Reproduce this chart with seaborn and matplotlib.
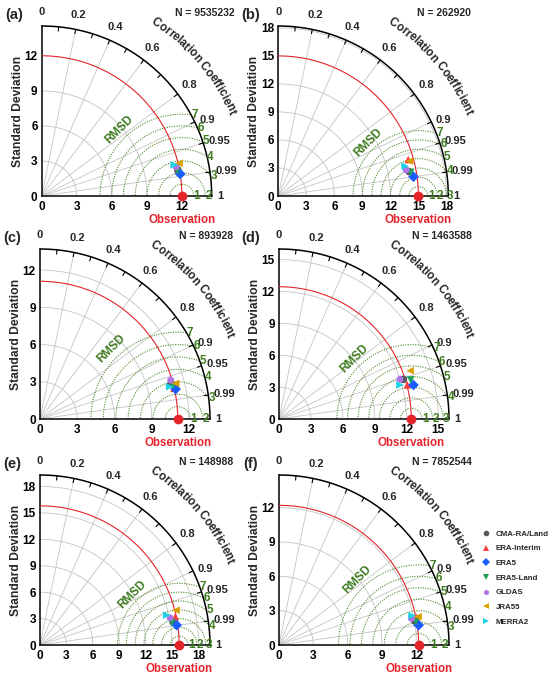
import numpy as np
import pandas as pd
import seaborn as sns
import matplotlib.pyplot as plt
from matplotlib.lines import Line2D

products = ['CMA-RA/Land', 'ERA-Interim', 'ERA5', 'ERA5-Land', 'GLDAS', 'JRA55', 'MERRA2']
colors = ['#555555', '#ff3b3b', '#1a5cff', '#1fa05a', '#b074e6', '#d9a100', '#1ed2e6']
marks = ['o', '^', 'D', 'v', 'h', '<', '>']

panel_tags = ['(a)', '(b)', '(c)', '(d)', '(e)', '(f)']
sample_n = [9535232, 262920, 893928, 1463588, 148988, 7852544]
obs_std = [12.0, 15.0, 11.1, 12.45, 15.8, 12.2]
max_std = [14.55, 18.2, 13.7, 16.0, 19.3, 14.85]
std_ticks = [[0, 3, 6, 9, 12], [0, 3, 6, 9, 12, 15, 18], [0, 3, 6, 9, 12],
             [0, 3, 6, 9, 12, 15], [0, 3, 6, 9, 12, 15, 18], [0, 3, 6, 9, 12]]

# standard deviation / correlation of each product, panel by panel
std_a = [11.86, 11.98, 12.00, 11.82, 11.77, 12.09, 11.65]
corr_a = [0.9827, 0.9806, 0.9876, 0.9830, 0.9770, 0.9727, 0.9735]
std_b = [14.24, 14.44, 14.62, 14.37, 13.97, 14.53, 13.95]
corr_b = [0.9830, 0.9628, 0.9900, 0.9849, 0.9800, 0.9664, 0.9734]
std_c = [10.96, 11.08, 11.19, 11.04, 10.99, 11.30, 10.77]
corr_c = [0.9651, 0.9748, 0.9765, 0.9701, 0.9586, 0.9672, 0.9704]
std_d = [12.29, 12.50, 13.05, 12.93, 11.99, 13.15, 11.83]
corr_d = [0.9528, 0.9665, 0.9694, 0.9589, 0.9500, 0.9383, 0.9627]
std_e = [15.33, 15.70, 15.68, 15.21, 15.09, 15.94, 14.78]
corr_e = [0.9852, 0.9790, 0.9896, 0.9857, 0.9788, 0.9688, 0.9734]
std_f = [12.04, 12.24, 12.32, 12.12, 11.80, 12.40, 11.90]
corr_f = [0.9848, 0.9806, 0.9900, 0.9859, 0.9805, 0.9799, 0.9765]
all_std = [std_a, std_b, std_c, std_d, std_e, std_f]
all_corr = [corr_a, corr_b, corr_c, corr_d, corr_e, corr_f]

corr_labels = [0, 0.2, 0.4, 0.6, 0.8, 0.9, 0.95, 0.99, 1]
corr_grid = [0.2, 0.4, 0.6, 0.8, 0.9, 0.95, 0.99]
corr_ticks = [0.1, 0.2, 0.3, 0.4, 0.5, 0.6, 0.7, 0.8, 0.9, 0.95, 0.99]
rmsd_levels = [1, 2, 3, 4, 5, 6, 7]

sns.set_theme(style='white')
plt.rcParams['font.family'] = ['Liberation Sans', 'DejaVu Sans']
plt.rcParams['font.weight'] = 'bold'

green = '#3e7b1f'
red = '#e3242b'

# advance widths (em) for the curved axis title
adv = {'C': .722, 'o': .611, 'r': .389, 'e': .556, 'l': .278, 'a': .556, 't': .333,
       'i': .278, 'n': .611, ' ': .278, 'f': .333, 'c': .556}

W, H = 550, 677
side = 170
origins = [(41.7, 196), (278.3, 196), (40, 419), (279, 419), (40, 645), (279, 645)]

fig = plt.figure(figsize=(5.5, 6.77), dpi=100)

for k in range(6):
     ox, oy = origins[k]
     ax = fig.add_axes([ox / W, (H - oy) / H, side / W, side / H])
     R = max_std[k]
     obs = obs_std[k]
     unit = side / R                    # px per data unit
     ax.set_xlim(0, R)
     ax.set_ylim(0, R)
     ax.spines[['top', 'right']].set_visible(False)
     for s in ['left', 'bottom']:
          ax.spines[s].set_linewidth(1.1)
          ax.spines[s].set_color('black')
     ax.set_xticks(std_ticks[k])
     ax.set_yticks(std_ticks[k])
     ax.tick_params(direction='in', length=3, width=0.8, labelsize=8.5, colors='black')
     ax.tick_params(axis='x', pad=3.5)
     ax.tick_params(axis='y', pad=3)

     th = np.linspace(0, np.pi / 2, 300)
     # grey std arcs
     for t in std_ticks[k][1:]:
          if abs(t - obs) > 0.05:
               ax.plot(t * np.cos(th), t * np.sin(th), color='#c4c4c4', lw=0.6, zorder=1)
     # grey correlation rays
     for c in corr_grid:
          a = np.arccos(c)
          ax.plot([0, R * np.cos(a)], [0, R * np.sin(a)], color='#c4c4c4', lw=0.6, zorder=1)
     # outer arc
     ax.plot(R * np.cos(th), R * np.sin(th), color='black', lw=1.1, zorder=4, clip_on=False)
     for c in corr_ticks:
          a = np.arccos(c)
          ax.plot([R * np.cos(a), 0.975 * R * np.cos(a)], [R * np.sin(a), 0.975 * R * np.sin(a)],
                  color='black', lw=0.8, zorder=4, clip_on=False)
     # observation arc
     ax.plot(obs * np.cos(th), obs * np.sin(th), color=red, lw=0.8, zorder=3)

     # RMSD circles
     ph = np.linspace(0, np.pi, 400)
     for r in rmsd_levels:
          xx = obs + r * np.cos(ph)
          yy = r * np.sin(ph)
          mask = np.hypot(xx, yy) > R
          xx = np.where(mask, np.nan, xx)
          yy = np.where(mask, np.nan, yy)
          ax.plot(xx, yy, color='#4f8c2e', lw=0.8, ls=(0, (1, 1.2)), zorder=2)
          if obs + r <= R:
               lx, ly = obs + r, 0
          else:
               lx = (R ** 2 - r ** 2 + obs ** 2) / (2 * obs)
               ly = np.sqrt(max(R ** 2 - lx ** 2, 0))
          ax.text(lx, ly, str(r), color=green, fontsize=8.5, ha='left', va='center', zorder=6)
     ra = np.deg2rad(133)
     ax.text(obs + 7.8 * np.cos(ra), 7.8 * np.sin(ra), 'RMSD', color=green, fontsize=8.5,
             rotation=45, ha='center', va='center')

     # correlation labels
     for c in corr_labels:
          a = np.arccos(c)
          if c <= 0.8:
               ax.text(1.085 * R * np.cos(a), 1.085 * R * np.sin(a), str(c), fontsize=8,
                       ha='center', va='center')
          else:
               ax.text(1.03 * R * np.cos(a), 1.03 * R * np.sin(a), str(c), fontsize=8,
                       ha='left', va='center')

     # curved "Correlation Coefficient"
     title = 'Correlation Coefficient'
     fs = 8.3
     em = fs * 100 / 72 / unit          # em in data units
     rad = 1.22 * R
     widths = [adv[ch] * em for ch in title]
     total = sum(widths)
     start = np.deg2rad(40.5) + total / 2 / rad
     pos = 0
     for ch, w in zip(title, widths):
          ang = start - (pos + w / 2) / rad
          pos += w
          ax.text(rad * np.cos(ang), rad * np.sin(ang), ch, fontsize=fs, ha='center', va='center',
                  rotation=np.rad2deg(ang) - 90, rotation_mode='anchor')

     # products
     std_v = np.array(all_std[k])
     corr_v = np.array(all_corr[k])
     df = pd.DataFrame({'product': products,
                        'x': std_v * corr_v,
                        'y': std_v * np.sqrt(1 - corr_v ** 2)})
     sns.scatterplot(data=df, x='x', y='y', hue='product', style='product',
                     palette=dict(zip(products, colors)), markers=dict(zip(products, marks)),
                     s=30, linewidth=0, legend=False, ax=ax, zorder=5)
     ax.scatter([obs], [0], s=36, color=red, zorder=7, clip_on=False)
     ax.set_xlabel('')
     ax.set_ylabel('')

     ax.text(-24 / side, 0.5, 'Standard Deviation', transform=ax.transAxes, rotation=90,
             fontsize=8.7, ha='center', va='center')
     ax.text(obs, -23.5 / unit, 'Observation', color=red, fontsize=8.3, ha='center', va='center')
     ax.text(-28 / side, 181 / side, panel_tags[k], transform=ax.transAxes, fontsize=10.5,
             ha='center', va='center')
     ax.text(1.135, 1.076, 'N = %d' % sample_n[k], transform=ax.transAxes, fontsize=7.5,
             ha='right', va='center')

handles = [Line2D([], [], ls='none', marker=m, color=c, ms=4, markeredgewidth=0)
           for m, c in zip(marks, colors)]
fig.legend(handles, products, loc='center left', bbox_to_anchor=(483 / W, 1 - 578 / H),
           frameon=False, fontsize=5.7, handlelength=0.8, handletextpad=0.8,
           labelspacing=0.9, borderpad=0, borderaxespad=0)

fig.savefig('out.png', dpi=100)
